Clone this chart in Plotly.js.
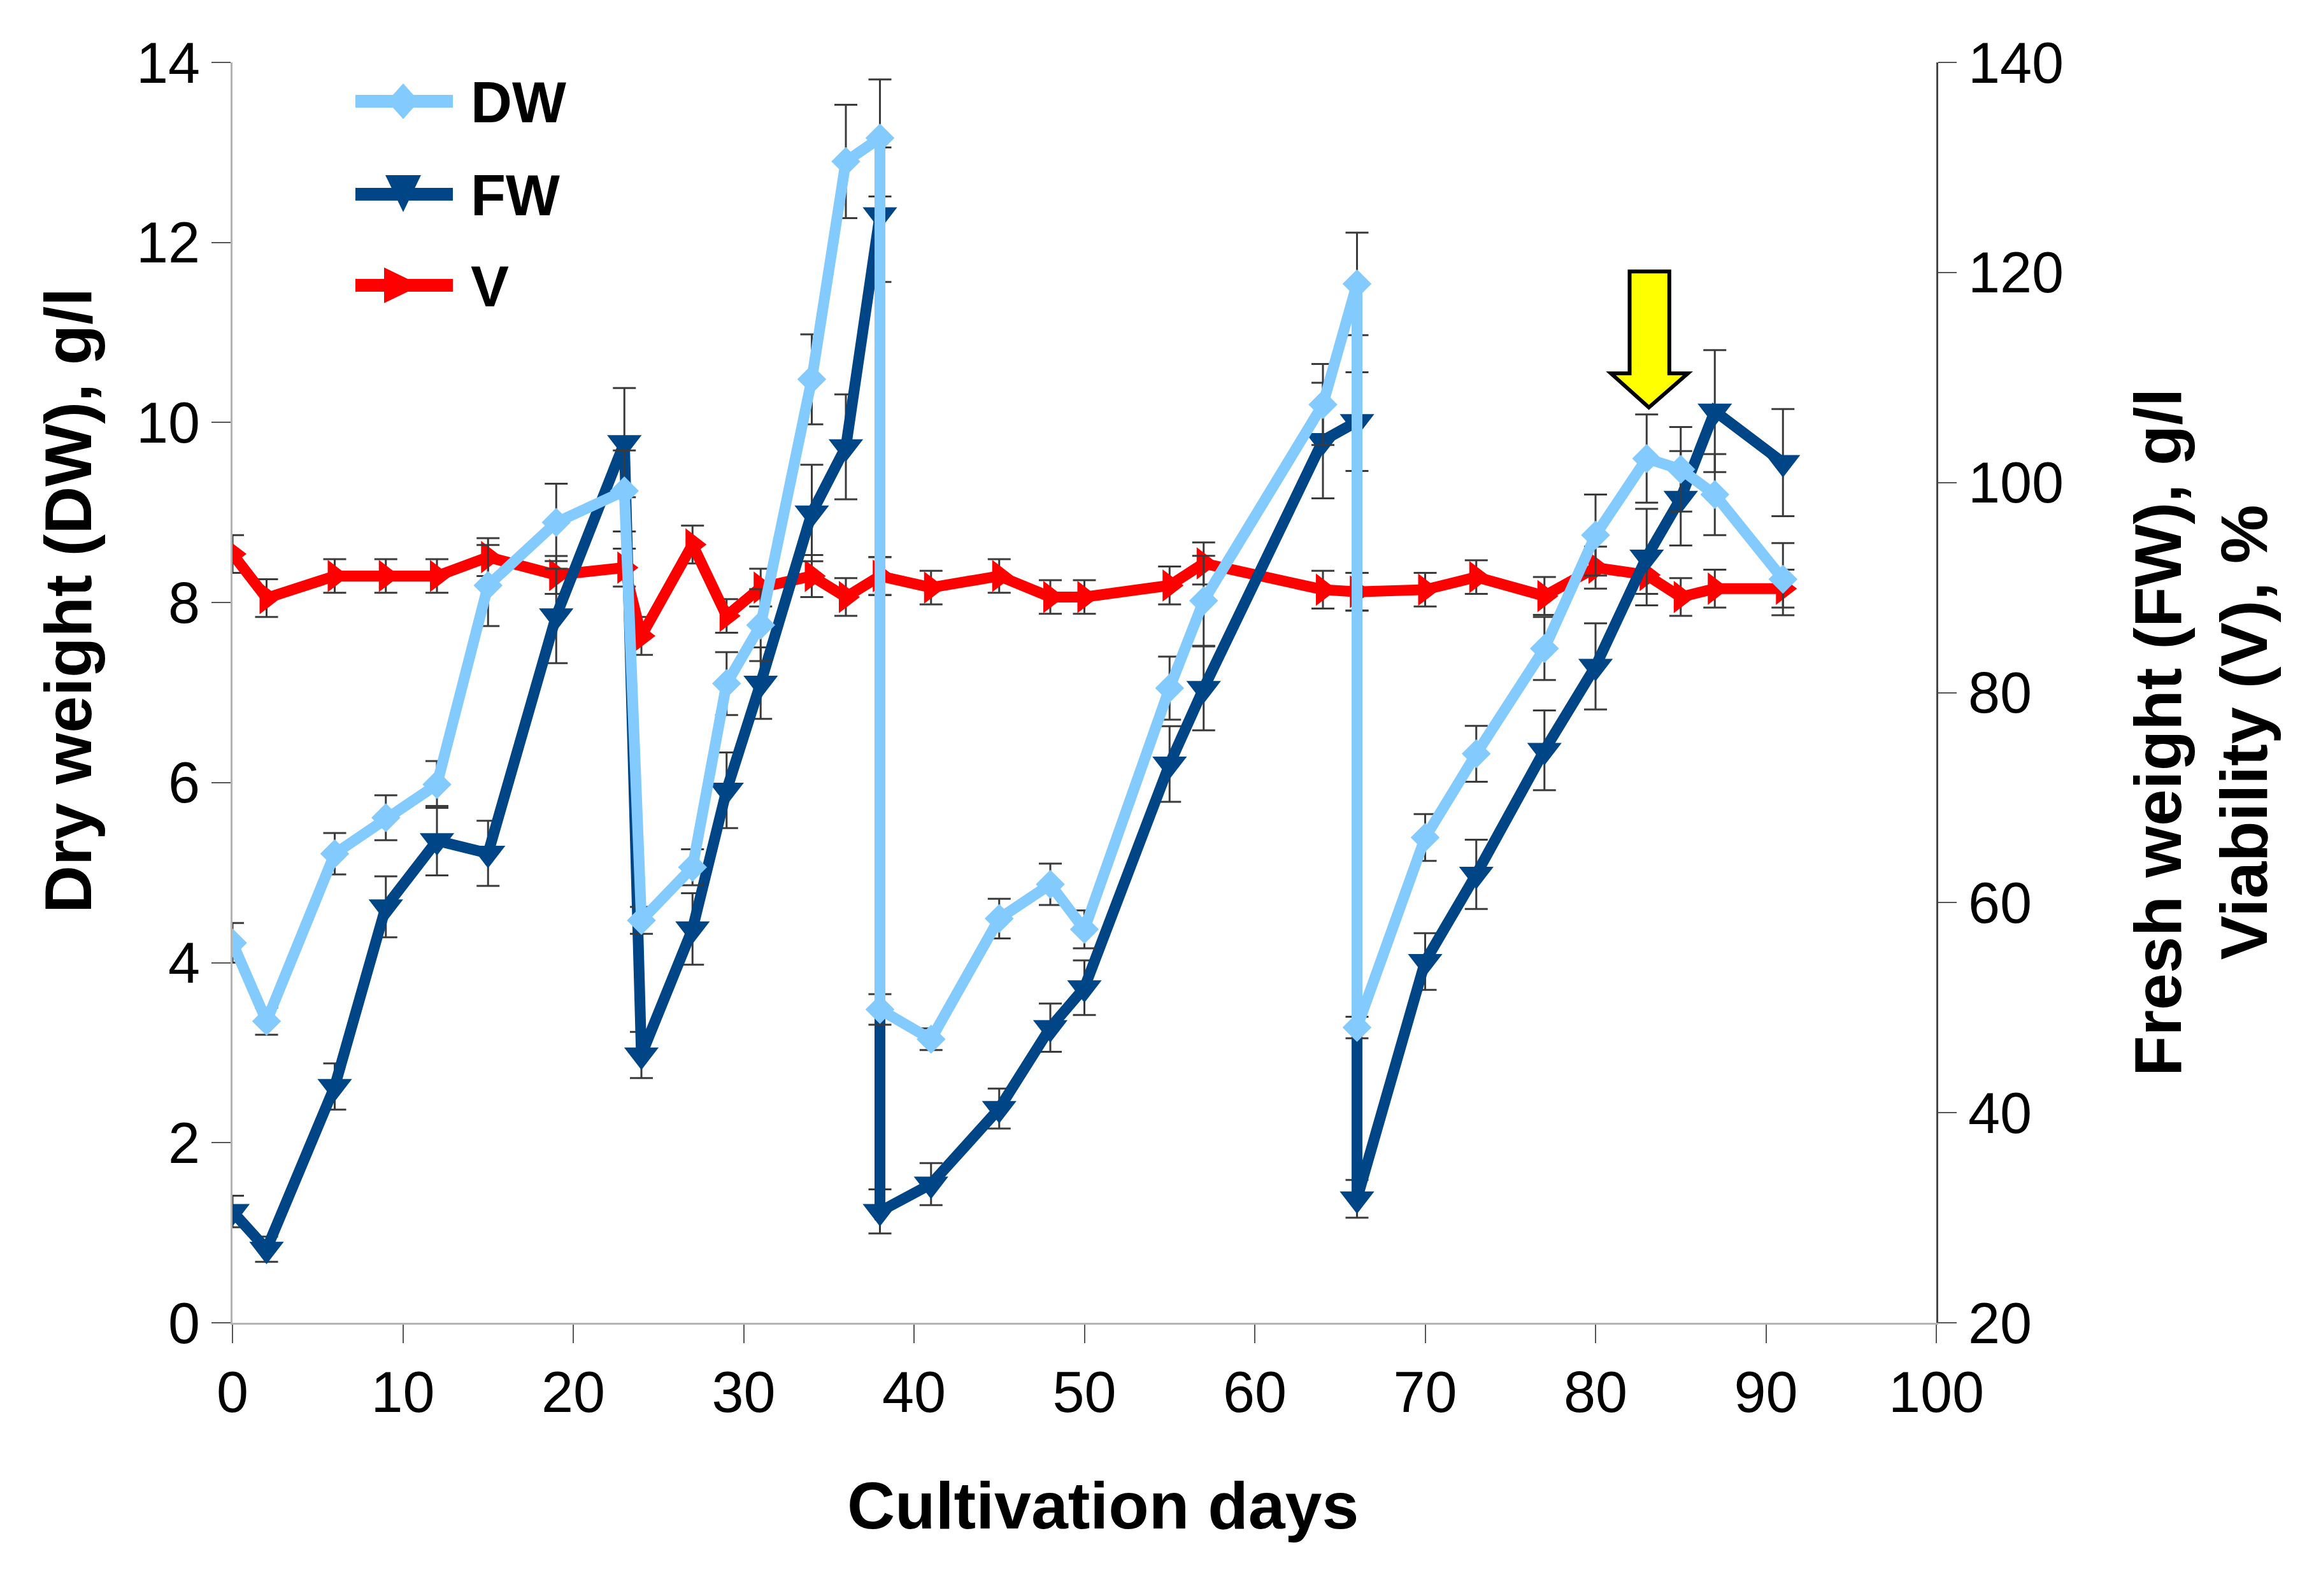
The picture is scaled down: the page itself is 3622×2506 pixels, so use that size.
<!DOCTYPE html>
<html>
<head>
<meta charset="utf-8">
<script src="https://cdn.plot.ly/plotly-3.0.1.min.js"></script>
<style>html,body{margin:0;padding:0;background:#fff;}</style>
</head>
<body>
<div id="chart" style="width:3622px;height:2506px;"></div>
<script>
// ---------------- data ----------------
const days = [0, 2, 6, 9, 12, 15, 19, 23, 24, 27, 29, 31, 34, 36, 38, 38, 41, 45, 48, 50, 55, 57, 64, 66, 66, 70, 73, 77, 80, 83, 85, 87, 91];

// Dry weight, g/l (left axis)
const dwValues = [4.22, 3.35, 5.21, 5.61, 5.98, 8.19, 8.89, 9.24, 4.47, 5.06, 7.10, 7.75, 10.48, 12.90, 13.16, 3.48, 3.15, 4.49, 4.87, 4.37, 7.05, 8.02, 10.20, 11.54, 3.28, 5.39, 6.32, 7.49, 8.75, 9.60, 9.48, 9.20, 8.26];
const dwErrors = [0.22, 0.15, 0.23, 0.25, 0.26, 0.45, 0.43, 0.45, 0.15, 0.20, 0.35, 0.40, 0.50, 0.63, 0.65, 0.17, 0.12, 0.22, 0.23, 0.21, 0.35, 0.50, 0.45, 0.57, 0.12, 0.26, 0.31, 0.35, 0.45, 0.49, 0.47, 0.45, 0.40];

// Fresh weight, g/l (right axis)
const fwValues = [30.6, 27.0, 42.5, 59.6, 65.9, 64.7, 87.3, 103.8, 45.5, 57.5, 70.7, 80.9, 97.1, 103.4, 125.5, 30.6, 33.2, 40.4, 48.1, 51.9, 73.2, 80.4, 104.0, 105.8, 31.8, 54.4, 62.7, 74.5, 82.5, 92.9, 98.5, 106.8, 101.9];
const fwErrors = [1.5, 1.2, 2.2, 2.9, 3.3, 3.1, 4.5, 5.2, 2.2, 3.4, 3.6, 3.4, 4.6, 5.0, 6.4, 2.1, 2.0, 1.9, 2.3, 2.6, 3.6, 4.0, 5.5, 4.7, 1.8, 2.7, 3.3, 3.8, 4.1, 4.6, 4.5, 5.8, 5.1];

// Viability, % (right axis)
const vValues = [93.2, 89.0, 91.1, 91.1, 91.1, 92.9, 91.2, 91.9, 85.4, 94.1, 87.3, 90.0, 91.1, 89.1, 91.1, 91.1, 90.0, 91.1, 89.1, 89.1, 90.2, 92.3, 89.8, 89.6, 89.6, 89.8, 91.0, 89.2, 91.9, 91.2, 89.1, 89.9, 89.9];
const vErrors = [1.8, 1.8, 1.6, 1.6, 1.6, 1.8, 1.8, 1.8, 1.8, 1.8, 1.6, 1.8, 2.0, 1.8, 1.8, 1.8, 1.6, 1.6, 1.6, 1.6, 1.8, 2.0, 1.8, 1.8, 1.8, 1.6, 1.6, 1.8, 2.0, 1.8, 1.8, 1.8, 1.8];

const seriesNames = ['DW', 'FW', 'V'];
const xTicks = [0, 10, 20, 30, 40, 50, 60, 70, 80, 90, 100];
const yLeftTicks = [0, 2, 4, 6, 8, 10, 12, 14];
const yRightTicks = [20, 40, 60, 80, 100, 120, 140];
const xTitle = 'Cultivation days';
const yLeftTitle = 'Dry weight (DW), g/l';
const yRightTitle = 'Fresh weight (FW), g/l<br>Viability (V), %';

// ---------------- styling ----------------
const FONT = 'Liberation Sans, Arial, sans-serif';
const COL_DW = '#83caff', COL_FW = '#004586', COL_V = '#ff0000';
const ERR = {type: 'data', visible: true, color: '#3a3a3a', thickness: 3, width: 18};
const LW = 17;

const W = 3622, H = 2506;
const M = {l: 365, r: W - 3040, t: 98, b: H - 2077};
const PW = W - M.l - M.r, PH = H - M.t - M.b;
function px(x) { return (x - M.l) / PW; }
function py(y) { return (M.t + PH - y) / PH; }
function pathPx(pts) {
  return 'M' + pts.map(p => px(p[0]).toFixed(5) + ',' + py(p[1]).toFixed(5)).join('L') + 'Z';
}

// 'y'  = right-hand axis (FW, V);  'y2' = left-hand axis (DW), overlaid so DW is drawn on top
const traces = [
  {
    x: days, y: vValues, name: seriesNames[2], yaxis: 'y', type: 'scatter', mode: 'lines+markers',
    line: {color: COL_V, width: LW},
    marker: {symbol: 'triangle-right', size: 44, color: COL_V},
    error_y: Object.assign({array: vErrors}, ERR)
  },
  {
    x: days, y: fwValues, name: seriesNames[1], yaxis: 'y', type: 'scatter', mode: 'lines+markers',
    line: {color: COL_FW, width: LW},
    marker: {symbol: 'triangle-down', size: 47, color: COL_FW},
    error_y: Object.assign({array: fwErrors}, ERR)
  },
  {
    x: days, y: dwValues, name: seriesNames[0], yaxis: 'y2', type: 'scatter', mode: 'lines+markers',
    line: {color: COL_DW, width: LW},
    marker: {symbol: 'diamond', size: 35, color: COL_DW},
    error_y: Object.assign({array: dwErrors}, ERR)
  }
];

// custom legend (long sample lines as in the original)
const legRows = [
  {y: 159, color: COL_DW, name: seriesNames[0], sym: 'diamond'},
  {y: 305, color: COL_FW, name: seriesNames[1], sym: 'tdown'},
  {y: 448, color: COL_V, name: seriesNames[2], sym: 'tright'}
];
const shapes = [];
const annotations = [];
legRows.forEach(r => {
  shapes.push({type: 'line', xref: 'paper', yref: 'paper', x0: px(558), x1: px(711), y0: py(r.y), y1: py(r.y),
    line: {color: r.color, width: 20}});
  let pts;
  const cx = 633, cy = r.y;
  if (r.sym === 'diamond') pts = [[cx - 25, cy], [cx, cy - 28], [cx + 25, cy], [cx, cy + 28]];
  else if (r.sym === 'tdown') pts = [[cx - 28, cy - 30], [cx + 28, cy - 30], [cx, cy + 28]];
  else pts = [[cx - 30, cy - 28], [cx + 28, cy], [cx - 30, cy + 28]];
  shapes.push({type: 'path', xref: 'paper', yref: 'paper', path: pathPx(pts),
    fillcolor: r.color, line: {width: 0}});
  annotations.push({xref: 'paper', yref: 'paper', x: px(737), y: py(r.y + 2), xanchor: 'left', yanchor: 'middle',
    text: '<b>' + r.name + '</b>', showarrow: false, font: {family: FONT, size: 90, color: '#000'}});
});

// yellow block arrow (data coordinates: x days, y right-hand axis)
shapes.push({
  type: 'path', xref: 'x', yref: 'y',
  path: 'M82.0,120.1L84.33,120.1L84.33,110.4L85.42,110.4L83.13,107.15L80.9,110.4L82.0,110.4Z',
  fillcolor: '#ffff00', line: {color: '#000', width: 6}
});

// axis titles
annotations.push({xref: 'paper', yref: 'paper', x: px(1731), y: py(2364), xanchor: 'center', yanchor: 'middle',
  text: '<b>' + xTitle + '</b>', showarrow: false, font: {family: FONT, size: 104, color: '#000'}});
annotations.push({xref: 'paper', yref: 'paper', x: px(107), y: py(943), xanchor: 'center', yanchor: 'middle',
  textangle: -90, text: '<b>' + yLeftTitle + '</b>', showarrow: false, font: {family: FONT, size: 104, color: '#000'}});
annotations.push({xref: 'paper', yref: 'paper', x: px(3455), y: py(1150), xanchor: 'center', yanchor: 'middle',
  textangle: -90, align: 'center', text: '<b>' + yRightTitle.replace('<br>', '</b><br><b>') + '</b>', showarrow: false,
  font: {family: FONT, size: 104, color: '#000'}});

const tickFont = {family: FONT, size: 90, color: '#000'};
const layout = {
  width: W, height: H,
  margin: M,
  paper_bgcolor: '#fff', plot_bgcolor: '#fff',
  showlegend: false,
  font: {family: FONT, color: '#000'},
  xaxis: {
    range: [0, 100], tickvals: xTicks, ticktext: xTicks.map(String), showgrid: false, zeroline: false,
    showline: true, linecolor: '#b3b3b3', linewidth: 3,
    ticks: 'outside', ticklen: 29, tickwidth: 2, tickcolor: '#555', tickfont: tickFont
  },
  yaxis: {
    range: [20, 140], tickvals: yRightTicks, ticktext: yRightTicks.map(String), side: 'right',
    showgrid: false, zeroline: false, showline: true, linecolor: '#444', linewidth: 3,
    ticks: 'outside', ticklen: 29, tickwidth: 2, tickcolor: '#555', tickfont: tickFont
  },
  yaxis2: {
    range: [0, 14], tickvals: yLeftTicks, ticktext: yLeftTicks.map(String), side: 'left', overlaying: 'y',
    showgrid: false, zeroline: false, showline: true, linecolor: '#b3b3b3', linewidth: 3,
    ticks: 'outside', ticklen: 30, tickwidth: 2, tickcolor: '#555', tickfont: tickFont
  },
  shapes: shapes,
  annotations: annotations
};

Plotly.newPlot('chart', traces, layout, {staticPlot: true, displayModeBar: false});
</script>
</body>
</html>
